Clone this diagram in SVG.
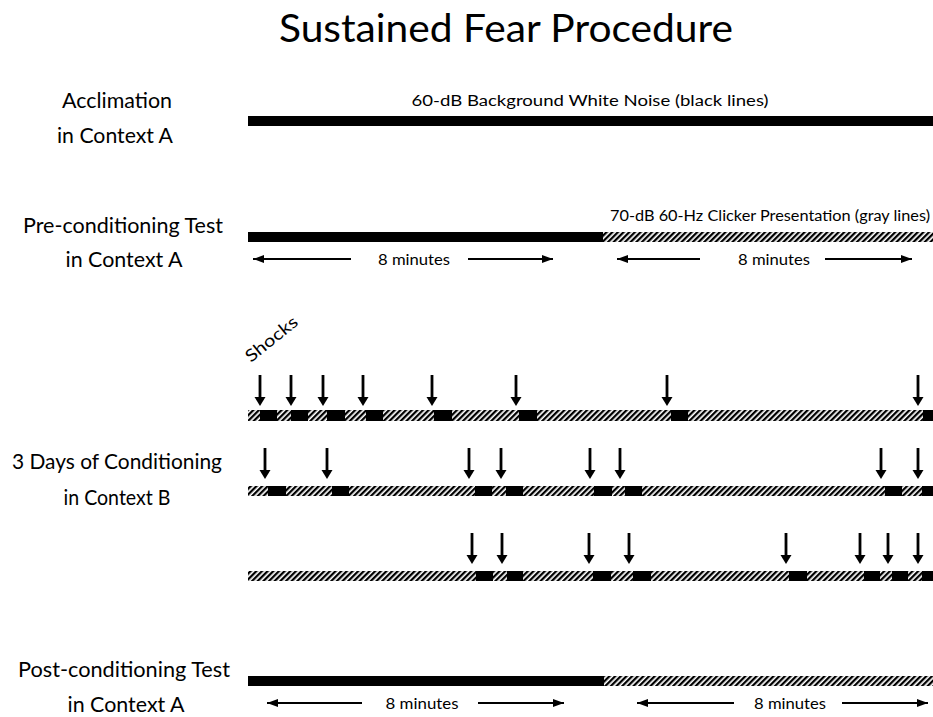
<svg xmlns="http://www.w3.org/2000/svg" xmlns:xlink="http://www.w3.org/1999/xlink" width="933" height="717" viewBox="0 0 933 717">
<style>
  .t { font-family: Lato, "Open Sans", "Liberation Sans", sans-serif; fill: #000; }
  .lbl { font-size: 21px; text-anchor: middle; }
  .sm { font-size: 15.5px; text-anchor: middle; }
  .min { font-size: 16px; text-anchor: middle; }
  .blk { fill: #000; }
  .hat { fill: url(#hatch); }
  .harr { stroke: #000; stroke-width: 2; fill: none; }
</style>
<defs>
  <pattern id="hatch" patternUnits="userSpaceOnUse" width="4" height="4" patternTransform="rotate(45)">
    <rect width="4" height="4" fill="#fff"/>
    <rect width="2.3" height="4" fill="#000"/>
  </pattern>
  <marker id="ah" markerUnits="userSpaceOnUse" viewBox="0 0 11 8" markerWidth="11" markerHeight="8" refX="11" refY="4" orient="auto-start-reverse">
    <path d="M0,0 L11,4 L0,8 z" fill="#000"/>
  </marker>
  <g id="shock">
    <rect x="-1.4" y="0" width="2.8" height="24" fill="#000"/>
    <path d="M-5.5,22 L5.5,22 L0,31 z" fill="#000"/>
  </g>
</defs>
<rect width="933" height="717" fill="#fff"/>

<text class="t" x="506" y="42" font-size="39" text-anchor="middle" textLength="454" lengthAdjust="spacingAndGlyphs">Sustained Fear Procedure</text>

<g id="acclimation">
  <text class="t lbl" x="117" y="108" textLength="110" lengthAdjust="spacingAndGlyphs">Acclimation</text>
  <text class="t lbl" x="115" y="143" textLength="116" lengthAdjust="spacingAndGlyphs">in Context A</text>
  <text class="t sm" x="590" y="106" textLength="357" lengthAdjust="spacingAndGlyphs">60-dB Background White Noise (black lines)</text>
  <rect class="blk" x="248" y="116" width="685" height="10"/>
</g>

<g id="preconditioning">
  <text class="t lbl" x="123" y="233" textLength="200" lengthAdjust="spacingAndGlyphs">Pre-conditioning Test</text>
  <text class="t lbl" x="124" y="267" textLength="117" lengthAdjust="spacingAndGlyphs">in Context A</text>
  <text class="t sm" x="770" y="221" textLength="320" lengthAdjust="spacingAndGlyphs">70-dB 60-Hz Clicker Presentation (gray lines)</text>
  <rect class="blk" x="248" y="232" width="355" height="10"/>
  <rect class="hat" x="603" y="232" width="330" height="10"/>
  <text class="t min" x="414" y="265" textLength="72" lengthAdjust="spacingAndGlyphs">8 minutes</text>
  <text class="t min" x="774" y="265" textLength="72" lengthAdjust="spacingAndGlyphs">8 minutes</text>
</g>

<g id="conditioning">
  <text class="t lbl" x="117" y="469" textLength="210" lengthAdjust="spacingAndGlyphs">3 Days of Conditioning</text>
  <text class="t lbl" x="117" y="505" textLength="107" lengthAdjust="spacingAndGlyphs">in Context B</text>
  <text class="t" font-size="17" transform="translate(251,363) rotate(-39)" textLength="62" lengthAdjust="spacingAndGlyphs">Shocks</text>

  <g id="day1">
    <rect class="hat" x="248" y="410" width="685" height="11"/>
    <rect class="blk" x="260" y="410" width="17" height="11"/>
    <rect class="blk" x="291" y="410" width="17" height="11"/>
    <rect class="blk" x="327" y="410" width="18" height="11"/>
    <rect class="blk" x="366" y="410" width="17" height="11"/>
    <rect class="blk" x="434" y="410" width="18" height="11"/>
    <rect class="blk" x="519" y="410" width="18" height="11"/>
    <rect class="blk" x="671" y="410" width="17" height="11"/>
    <rect class="blk" x="923" y="410" width="10" height="11"/>
  </g>
  <g id="day2">
    <rect class="hat" x="248" y="486" width="685" height="10"/>
    <rect class="blk" x="268" y="486" width="18" height="10"/>
    <rect class="blk" x="332" y="486" width="17" height="10"/>
    <rect class="blk" x="475" y="486" width="17" height="10"/>
    <rect class="blk" x="506" y="486" width="17" height="10"/>
    <rect class="blk" x="594" y="486" width="18" height="10"/>
    <rect class="blk" x="625" y="486" width="17" height="10"/>
    <rect class="blk" x="885" y="486" width="17" height="10"/>
    <rect class="blk" x="922" y="486" width="11" height="10"/>
  </g>
  <g id="day3">
    <rect class="hat" x="248" y="571" width="685" height="10"/>
    <rect class="blk" x="476" y="571" width="17" height="10"/>
    <rect class="blk" x="507" y="571" width="16" height="10"/>
    <rect class="blk" x="593" y="571" width="18" height="10"/>
    <rect class="blk" x="633" y="571" width="18" height="10"/>
    <rect class="blk" x="789" y="571" width="18" height="10"/>
    <rect class="blk" x="864" y="571" width="16" height="10"/>
    <rect class="blk" x="892" y="571" width="16" height="10"/>
    <rect class="blk" x="922" y="571" width="11" height="10"/>
  </g>
</g>

<g id="postconditioning">
  <text class="t lbl" x="124" y="677" textLength="212" lengthAdjust="spacingAndGlyphs">Post-conditioning Test</text>
  <text class="t lbl" x="126" y="712" textLength="117" lengthAdjust="spacingAndGlyphs">in Context A</text>
  <rect class="blk" x="248" y="676" width="356" height="10"/>
  <rect class="hat" x="604" y="676" width="329" height="10"/>
  <text class="t min" x="422" y="709" textLength="73" lengthAdjust="spacingAndGlyphs">8 minutes</text>
  <text class="t min" x="790" y="709" textLength="72" lengthAdjust="spacingAndGlyphs">8 minutes</text>
</g>

<g id="connectors">
  <path class="harr" d="M351,259 H253" marker-end="url(#ah)"/>
  <path class="harr" d="M468,259 H553" marker-end="url(#ah)"/>
  <path class="harr" d="M700,259 H617" marker-end="url(#ah)"/>
  <path class="harr" d="M825,259 H912" marker-end="url(#ah)"/>
  <path class="harr" d="M362,703 H267" marker-end="url(#ah)"/>
  <path class="harr" d="M478,703 H564" marker-end="url(#ah)"/>
  <path class="harr" d="M734,703 H637" marker-end="url(#ah)"/>
  <path class="harr" d="M842,703 H928" marker-end="url(#ah)"/>

  <use xlink:href="#shock" x="260" y="375"/>
  <use xlink:href="#shock" x="291" y="375"/>
  <use xlink:href="#shock" x="323" y="375"/>
  <use xlink:href="#shock" x="363" y="375"/>
  <use xlink:href="#shock" x="432" y="375"/>
  <use xlink:href="#shock" x="516" y="375"/>
  <use xlink:href="#shock" x="667" y="375"/>
  <use xlink:href="#shock" x="918" y="375"/>

  <use xlink:href="#shock" x="265" y="448"/>
  <use xlink:href="#shock" x="327" y="448"/>
  <use xlink:href="#shock" x="469" y="448"/>
  <use xlink:href="#shock" x="501" y="448"/>
  <use xlink:href="#shock" x="590" y="448"/>
  <use xlink:href="#shock" x="620" y="448"/>
  <use xlink:href="#shock" x="881" y="448"/>
  <use xlink:href="#shock" x="918" y="448"/>

  <use xlink:href="#shock" x="472" y="533"/>
  <use xlink:href="#shock" x="502" y="533"/>
  <use xlink:href="#shock" x="589" y="533"/>
  <use xlink:href="#shock" x="629" y="533"/>
  <use xlink:href="#shock" x="786" y="533"/>
  <use xlink:href="#shock" x="860" y="533"/>
  <use xlink:href="#shock" x="888" y="533"/>
  <use xlink:href="#shock" x="918" y="533"/>
</g>
</svg>
